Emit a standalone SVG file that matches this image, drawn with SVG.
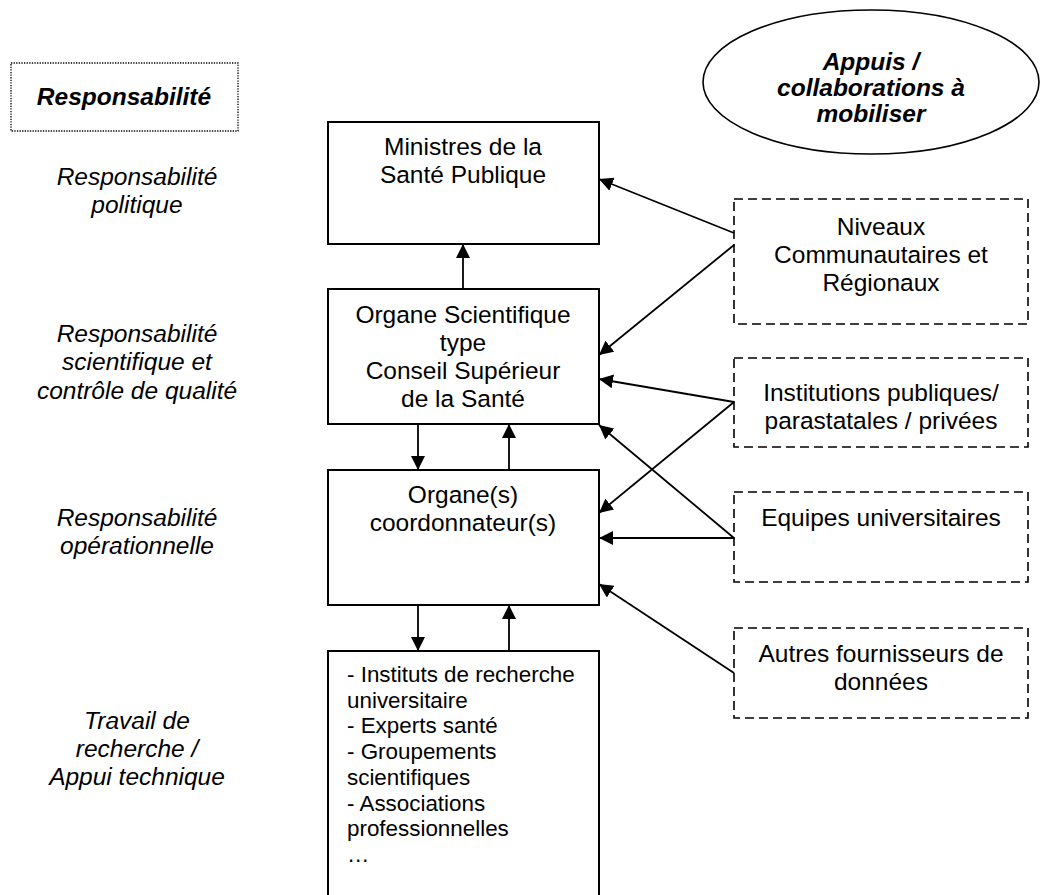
<svg xmlns="http://www.w3.org/2000/svg" width="1042" height="895" viewBox="0 0 1042 895">
  <style>
    text { font-family: "Liberation Sans", Arial, sans-serif; fill: #000; }
    .t { font-size: 24.5px; text-anchor: middle; }
    .it { font-size: 24.5px; font-style: italic; text-anchor: middle; }
    .bi { font-size: 24.5px; font-style: italic; font-weight: bold; text-anchor: middle; }
    .sm { font-size: 22.4px; }
    .box { fill: #fff; stroke: #000; stroke-width: 2; }
    .dash { fill: #fff; stroke: #000; stroke-width: 1.6; stroke-dasharray: 9 5; }
    .dot { fill: #fff; stroke: #000; stroke-width: 1.3; stroke-dasharray: 1.3 1.3; }
    .oval { fill: #fff; stroke: #000; stroke-width: 1.6; }
    .link { stroke: #000; stroke-width: 1.8; fill: none; marker-end: url(#arrow); }
  </style>
  <defs>
    <marker id="arrow" viewBox="0 0 14 14" refX="14" refY="7" markerWidth="14" markerHeight="14" markerUnits="userSpaceOnUse" orient="auto">
      <path d="M0,0 L14,7 L0,14 z" fill="#000"/>
    </marker>
  </defs>
  <rect width="1042" height="895" fill="#fff"/>

  <!-- left column: responsibility levels -->
  <g id="responsabilite-titre">
    <rect class="dot" x="11" y="63" width="227" height="68"/>
    <text class="bi" x="124" y="105">Responsabilité</text>
  </g>
  <g id="resp-politique">
    <text class="it" x="137" y="185">Responsabilité</text>
    <text class="it" x="137" y="213">politique</text>
  </g>
  <g id="resp-scientifique">
    <text class="it" x="137" y="342">Responsabilité</text>
    <text class="it" x="137" y="370">scientifique et</text>
    <text class="it" x="137" y="399">contrôle de qualité</text>
  </g>
  <g id="resp-operationnelle">
    <text class="it" x="137" y="526">Responsabilité</text>
    <text class="it" x="137" y="554">opérationnelle</text>
  </g>
  <g id="travail-recherche">
    <text class="it" x="137" y="729">Travail de</text>
    <text class="it" x="137" y="757">recherche /</text>
    <text class="it" x="137" y="785">Appui technique</text>
  </g>

  <!-- central chain -->
  <g id="ministres">
    <rect class="box" x="328" y="122" width="271" height="122"/>
    <text class="t" x="463" y="155">Ministres de la</text>
    <text class="t" x="463" y="183">Santé Publique</text>
  </g>
  <g id="organe-scientifique">
    <rect class="box" x="328" y="289" width="271" height="135"/>
    <text class="t" x="463" y="323">Organe Scientifique</text>
    <text class="t" x="463" y="351">type</text>
    <text class="t" x="463" y="379">Conseil Supérieur</text>
    <text class="t" x="463" y="407">de la Santé</text>
  </g>
  <g id="organe-coordonnateur">
    <rect class="box" x="328" y="470" width="271" height="135"/>
    <text class="t" x="463" y="503">Organe(s)</text>
    <text class="t" x="463" y="531">coordonnateur(s)</text>
  </g>
  <g id="appui-technique">
    <rect class="box" x="328" y="651" width="271" height="260"/>
    <text class="sm" x="347" y="682">- Instituts de recherche</text>
    <text class="sm" x="347" y="708">universitaire</text>
    <text class="sm" x="347" y="733">- Experts santé</text>
    <text class="sm" x="347" y="759">- Groupements</text>
    <text class="sm" x="347" y="785">scientifiques</text>
    <text class="sm" x="347" y="811">- Associations</text>
    <text class="sm" x="347" y="836">professionnelles</text>
    <text class="sm" x="347" y="862">…</text>
  </g>

  <!-- right column: support and collaborations -->
  <g id="appuis">
    <ellipse class="oval" cx="871" cy="82" rx="168" ry="72"/>
    <text class="bi" x="871" y="70">Appuis /</text>
    <text class="bi" x="871" y="96">collaborations à</text>
    <text class="bi" x="871" y="122">mobiliser</text>
  </g>
  <g id="niveaux">
    <rect class="dash" x="734" y="199" width="294" height="125"/>
    <text class="t" x="881" y="235">Niveaux</text>
    <text class="t" x="881" y="263">Communautaires et</text>
    <text class="t" x="881" y="291">Régionaux</text>
  </g>
  <g id="institutions">
    <rect class="dash" x="734" y="358" width="294" height="89"/>
    <text class="t" x="881" y="401">Institutions publiques/</text>
    <text class="t" x="881" y="429">parastatales / privées</text>
  </g>
  <g id="equipes">
    <rect class="dash" x="734" y="492" width="294" height="90"/>
    <text class="t" x="881" y="526">Equipes universitaires</text>
  </g>
  <g id="autres">
    <rect class="dash" x="734" y="628" width="294" height="90"/>
    <text class="t" x="881" y="662">Autres fournisseurs de</text>
    <text class="t" x="881" y="690">données</text>
  </g>

  <!-- connectors -->
  <g id="connectors">
    <line class="link" x1="463" y1="289" x2="463" y2="244"/>
    <line class="link" x1="418" y1="424" x2="418" y2="470"/>
    <line class="link" x1="509" y1="470" x2="509" y2="424"/>
    <line class="link" x1="418" y1="605" x2="418" y2="651"/>
    <line class="link" x1="509" y1="651" x2="509" y2="605"/>
    <line class="link" x1="734" y1="233" x2="599" y2="179"/>
    <line class="link" x1="734" y1="245" x2="599" y2="355"/>
    <line class="link" x1="734" y1="402" x2="599" y2="379"/>
    <line class="link" x1="734" y1="402" x2="599" y2="513"/>
    <line class="link" x1="734" y1="538" x2="599" y2="538"/>
    <line class="link" x1="734" y1="538" x2="599" y2="425"/>
    <line class="link" x1="734" y1="673" x2="599" y2="584"/>
  </g>
</svg>
